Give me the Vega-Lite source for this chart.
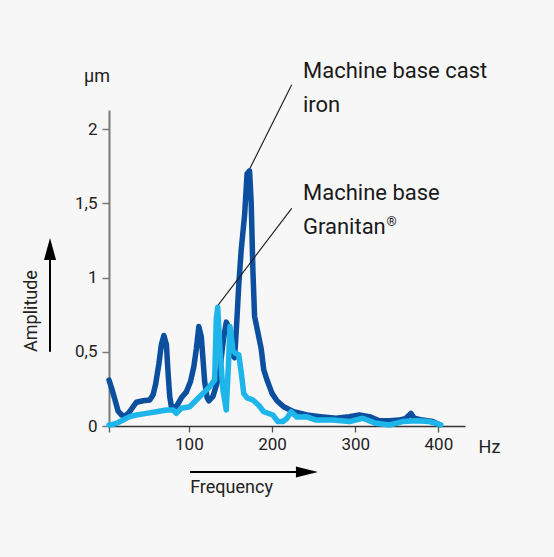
{
  "$schema": "https://vega.github.io/schema/vega-lite/v6.json",
  "width": 356,
  "height": 316,
  "autosize": {"type": "none"},
  "padding": {"left": 109, "top": 110, "right": 89, "bottom": 131},
  "background": "#f7f7f7",
  "config": {
    "view": {"stroke": null},
    "font": "Roboto",
    "axis": {"labelFont": "Roboto", "labelFontSize": 17, "labelColor": "#222222", "grid": false, "title": null}
  },
  "datasets": {
    "curves": [
      {"series": "Cast iron", "hz": 4, "amp": 0.31},
      {"series": "Cast iron", "hz": 8, "amp": 0.24},
      {"series": "Cast iron", "hz": 11, "amp": 0.18},
      {"series": "Cast iron", "hz": 15, "amp": 0.10},
      {"series": "Cast iron", "hz": 19, "amp": 0.075},
      {"series": "Cast iron", "hz": 23, "amp": 0.065},
      {"series": "Cast iron", "hz": 28, "amp": 0.09},
      {"series": "Cast iron", "hz": 33, "amp": 0.13},
      {"series": "Cast iron", "hz": 37, "amp": 0.16},
      {"series": "Cast iron", "hz": 45, "amp": 0.17},
      {"series": "Cast iron", "hz": 53, "amp": 0.175},
      {"series": "Cast iron", "hz": 57, "amp": 0.21},
      {"series": "Cast iron", "hz": 60, "amp": 0.28},
      {"series": "Cast iron", "hz": 64, "amp": 0.42},
      {"series": "Cast iron", "hz": 67, "amp": 0.55},
      {"series": "Cast iron", "hz": 70, "amp": 0.61},
      {"series": "Cast iron", "hz": 73, "amp": 0.55},
      {"series": "Cast iron", "hz": 75, "amp": 0.36},
      {"series": "Cast iron", "hz": 77, "amp": 0.2},
      {"series": "Cast iron", "hz": 79, "amp": 0.13},
      {"series": "Cast iron", "hz": 85, "amp": 0.13},
      {"series": "Cast iron", "hz": 91, "amp": 0.19},
      {"series": "Cast iron", "hz": 97, "amp": 0.23},
      {"series": "Cast iron", "hz": 102, "amp": 0.30},
      {"series": "Cast iron", "hz": 106, "amp": 0.40},
      {"series": "Cast iron", "hz": 109, "amp": 0.52},
      {"series": "Cast iron", "hz": 112, "amp": 0.67},
      {"series": "Cast iron", "hz": 115, "amp": 0.60},
      {"series": "Cast iron", "hz": 119, "amp": 0.30},
      {"series": "Cast iron", "hz": 122, "amp": 0.19},
      {"series": "Cast iron", "hz": 124, "amp": 0.17},
      {"series": "Cast iron", "hz": 129, "amp": 0.20},
      {"series": "Cast iron", "hz": 135, "amp": 0.31},
      {"series": "Cast iron", "hz": 137, "amp": 0.36},
      {"series": "Cast iron", "hz": 140, "amp": 0.51},
      {"series": "Cast iron", "hz": 142, "amp": 0.60},
      {"series": "Cast iron", "hz": 145, "amp": 0.70},
      {"series": "Cast iron", "hz": 149, "amp": 0.65},
      {"series": "Cast iron", "hz": 152, "amp": 0.48},
      {"series": "Cast iron", "hz": 155, "amp": 0.46},
      {"series": "Cast iron", "hz": 157.5, "amp": 0.69},
      {"series": "Cast iron", "hz": 160, "amp": 0.95},
      {"series": "Cast iron", "hz": 163, "amp": 1.19},
      {"series": "Cast iron", "hz": 167, "amp": 1.42},
      {"series": "Cast iron", "hz": 170, "amp": 1.70},
      {"series": "Cast iron", "hz": 173, "amp": 1.72},
      {"series": "Cast iron", "hz": 175, "amp": 1.50},
      {"series": "Cast iron", "hz": 177, "amp": 1.05},
      {"series": "Cast iron", "hz": 179, "amp": 0.74},
      {"series": "Cast iron", "hz": 183, "amp": 0.63},
      {"series": "Cast iron", "hz": 187, "amp": 0.52},
      {"series": "Cast iron", "hz": 190, "amp": 0.38},
      {"series": "Cast iron", "hz": 194, "amp": 0.31},
      {"series": "Cast iron", "hz": 200, "amp": 0.22},
      {"series": "Cast iron", "hz": 206, "amp": 0.17},
      {"series": "Cast iron", "hz": 214, "amp": 0.13},
      {"series": "Cast iron", "hz": 226, "amp": 0.096},
      {"series": "Cast iron", "hz": 242, "amp": 0.074},
      {"series": "Cast iron", "hz": 258, "amp": 0.063},
      {"series": "Cast iron", "hz": 277, "amp": 0.052},
      {"series": "Cast iron", "hz": 293, "amp": 0.063},
      {"series": "Cast iron", "hz": 305, "amp": 0.075},
      {"series": "Cast iron", "hz": 317, "amp": 0.063},
      {"series": "Cast iron", "hz": 329, "amp": 0.035},
      {"series": "Cast iron", "hz": 341, "amp": 0.036},
      {"series": "Cast iron", "hz": 353, "amp": 0.04},
      {"series": "Cast iron", "hz": 361, "amp": 0.052},
      {"series": "Cast iron", "hz": 367, "amp": 0.085},
      {"series": "Cast iron", "hz": 371, "amp": 0.052},
      {"series": "Cast iron", "hz": 381, "amp": 0.04},
      {"series": "Cast iron", "hz": 393, "amp": 0.03},
      {"series": "Cast iron", "hz": 401, "amp": 0.01},
      {"series": "Granitan", "hz": 4, "amp": 0.007},
      {"series": "Granitan", "hz": 8, "amp": 0.01},
      {"series": "Granitan", "hz": 13, "amp": 0.018},
      {"series": "Granitan", "hz": 21, "amp": 0.04},
      {"series": "Granitan", "hz": 29, "amp": 0.063},
      {"series": "Granitan", "hz": 37, "amp": 0.074},
      {"series": "Granitan", "hz": 49, "amp": 0.085},
      {"series": "Granitan", "hz": 61, "amp": 0.096},
      {"series": "Granitan", "hz": 73, "amp": 0.108},
      {"series": "Granitan", "hz": 81, "amp": 0.108},
      {"series": "Granitan", "hz": 85, "amp": 0.085},
      {"series": "Granitan", "hz": 91, "amp": 0.12},
      {"series": "Granitan", "hz": 101, "amp": 0.13},
      {"series": "Granitan", "hz": 109, "amp": 0.175},
      {"series": "Granitan", "hz": 117, "amp": 0.22},
      {"series": "Granitan", "hz": 125, "amp": 0.265},
      {"series": "Granitan", "hz": 131, "amp": 0.31},
      {"series": "Granitan", "hz": 133, "amp": 0.72},
      {"series": "Granitan", "hz": 134.7, "amp": 0.80},
      {"series": "Granitan", "hz": 137.5, "amp": 0.51},
      {"series": "Granitan", "hz": 141, "amp": 0.24},
      {"series": "Granitan", "hz": 145, "amp": 0.108},
      {"series": "Granitan", "hz": 147.5, "amp": 0.40},
      {"series": "Granitan", "hz": 149.5, "amp": 0.67},
      {"series": "Granitan", "hz": 153, "amp": 0.51},
      {"series": "Granitan", "hz": 156, "amp": 0.49},
      {"series": "Granitan", "hz": 160, "amp": 0.48},
      {"series": "Granitan", "hz": 163, "amp": 0.36},
      {"series": "Granitan", "hz": 166, "amp": 0.22},
      {"series": "Granitan", "hz": 170, "amp": 0.19},
      {"series": "Granitan", "hz": 177, "amp": 0.175},
      {"series": "Granitan", "hz": 184, "amp": 0.14},
      {"series": "Granitan", "hz": 190, "amp": 0.096},
      {"series": "Granitan", "hz": 201, "amp": 0.074},
      {"series": "Granitan", "hz": 207, "amp": 0.03},
      {"series": "Granitan", "hz": 213, "amp": 0.03},
      {"series": "Granitan", "hz": 218, "amp": 0.052},
      {"series": "Granitan", "hz": 223, "amp": 0.096},
      {"series": "Granitan", "hz": 226, "amp": 0.08},
      {"series": "Granitan", "hz": 230, "amp": 0.06},
      {"series": "Granitan", "hz": 241, "amp": 0.063},
      {"series": "Granitan", "hz": 253, "amp": 0.04},
      {"series": "Granitan", "hz": 273, "amp": 0.04},
      {"series": "Granitan", "hz": 293, "amp": 0.03},
      {"series": "Granitan", "hz": 309, "amp": 0.052},
      {"series": "Granitan", "hz": 325, "amp": 0.018},
      {"series": "Granitan", "hz": 341, "amp": 0.007},
      {"series": "Granitan", "hz": 357, "amp": 0.03},
      {"series": "Granitan", "hz": 373, "amp": 0.036},
      {"series": "Granitan", "hz": 389, "amp": 0.03},
      {"series": "Granitan", "hz": 397, "amp": 0.018},
      {"series": "Granitan", "hz": 403, "amp": 0.007}
    ],
    "leaders": [
      {"hz": 173.5, "amp": 1.737, "hz2": 223.6, "amp2": 2.30},
      {"hz": 135.4, "amp": 0.816, "hz2": 223.6, "amp2": 1.467}
    ],
    "notes": [
      {"label": "Machine base cast", "hz": 237.2, "amp": 2.346},
      {"label": "iron", "hz": 237.2, "amp": 2.117},
      {"label": "Machine base", "hz": 237.2, "amp": 1.52},
      {"label": "Granitan", "hz": 237.2, "amp": 1.297}
    ],
    "superscripts": [
      {"label": "®", "hz": 337.5, "amp": 1.345}
    ],
    "unitLabels": [
      {"label": "μm", "hz": -10.4, "amp": 2.319},
      {"label": "Hz", "hz": 461.4, "amp": -0.182},
      {"label": "Frequency", "hz": 151.3, "amp": -0.452}
    ],
    "arrowShafts": [
      {"hz": 101.4, "amp": -0.31, "hz2": 234, "amp2": -0.31},
      {"hz": -66.9, "amp": 0.50, "hz2": -66.9, "amp2": 1.15}
    ],
    "arrowHeadRight": [{"hz": 242, "amp": -0.31}],
    "arrowHeadUp": [{"hz": -66.9, "amp": 1.193}],
    "amplitudeTitle": [{"label": "Amplitude", "hz": -88.6, "amp": 0.775}]
  },
  "encoding": {
    "x": {
      "field": "hz", "type": "quantitative",
      "scale": {"domain": [4, 432], "nice": false, "zero": false},
      "axis": {
        "values": [4, 100, 200, 300, 400],
        "labelExpr": "datum.value < 50 ? '' : datum.label",
        "domainColor": "#333333", "domainWidth": 1.3,
        "tickColor": "#555555", "tickWidth": 1.3, "tickSize": 6,
        "labelPadding": 4
      }
    },
    "y": {
      "field": "amp", "type": "quantitative",
      "scale": {"domain": [0, 2.13], "nice": false},
      "axis": {
        "values": [0, 0.5, 1, 1.5, 2],
        "format": "~g",
        "labelExpr": "replace(datum.label, '.', ',')",
        "domainColor": "#7a7a7a", "domainWidth": 2,
        "tickColor": "#7a7a7a", "tickWidth": 1.5, "tickSize": 7,
        "labelPadding": 5
      }
    }
  },
  "layer": [
    {
      "data": {"name": "curves"},
      "mark": {"type": "line", "strokeWidth": 5.5, "strokeJoin": "round", "strokeCap": "round"},
      "encoding": {
        "color": {
          "field": "series", "type": "nominal",
          "scale": {"domain": ["Cast iron", "Granitan"], "range": ["#0b4f9e", "#1db5ea"]},
          "legend": null
        },
        "order": {"field": "hz", "type": "quantitative"}
      }
    },
    {
      "data": {"name": "leaders"},
      "mark": {"type": "rule", "color": "#1a1a1a", "strokeWidth": 1.1},
      "encoding": {
        "x2": {"field": "hz2"},
        "y2": {"field": "amp2"}
      }
    },
    {
      "data": {"name": "notes"},
      "mark": {"type": "text", "align": "left", "baseline": "alphabetic", "fontSize": 22, "color": "#1a1a1a", "font": "Roboto"},
      "encoding": {
        "text": {"field": "label"}
      }
    },
    {
      "data": {"name": "superscripts"},
      "mark": {"type": "text", "align": "left", "baseline": "alphabetic", "fontSize": 13, "color": "#1a1a1a", "font": "Roboto"},
      "encoding": {
        "text": {"field": "label"}
      }
    },
    {
      "data": {"name": "unitLabels"},
      "mark": {"type": "text", "align": "center", "baseline": "alphabetic", "fontSize": 18, "color": "#222222", "font": "Roboto"},
      "encoding": {
        "text": {"field": "label"}
      }
    },
    {
      "data": {"name": "amplitudeTitle"},
      "mark": {"type": "text", "align": "center", "baseline": "middle", "angle": 270, "fontSize": 18, "color": "#222222", "font": "Roboto"},
      "encoding": {
        "text": {"field": "label"}
      }
    },
    {
      "data": {"name": "arrowShafts"},
      "mark": {"type": "rule", "color": "#000000", "strokeWidth": 2},
      "encoding": {
        "x2": {"field": "hz2"},
        "y2": {"field": "amp2"}
      }
    },
    {
      "data": {"name": "arrowHeadRight"},
      "mark": {"type": "point", "shape": "M1,0L-1,0.5L-1,-0.5Z", "size": 484, "filled": true, "color": "#000000", "opacity": 1},
      "encoding": {}
    },
    {
      "data": {"name": "arrowHeadUp"},
      "mark": {"type": "point", "shape": "M0,-1L0.55,1L-0.55,1Z", "size": 484, "filled": true, "color": "#000000", "opacity": 1},
      "encoding": {}
    }
  ]
}
